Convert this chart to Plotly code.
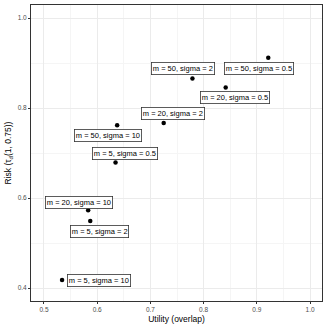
import plotly.graph_objects as go

# utility vs risk for each (m, sigma) setting
m_vals = [5, 20, 5, 5, 50, 20, 50, 20, 50]
sigma_vals = ["10", "10", "2", "0.5", "10", "2", "2", "0.5", "0.5"]
utility = [0.534, 0.583, 0.587, 0.6345, 0.6375, 0.725, 0.779, 0.8415, 0.9215]
risk = [0.418, 0.573, 0.549, 0.679, 0.762, 0.767, 0.866, 0.846, 0.912]

x_ticks = [0.5, 0.6, 0.7, 0.8, 0.9, 1.0]
y_ticks = [0.4, 0.6, 0.8, 1.0]

# label offsets in pixels (repel-style placement)
LABEL_OFFSETS = [(37, 0), (-9, -8), (9, 10), (9, -9), (-9, 10),
                 (9, -9), (-9, -10), (9, 10), (-9, 11)]

fig = go.Figure()
fig.add_trace(go.Scatter(
    x=utility, y=risk, mode="markers",
    marker=dict(color="black", size=4.5),
    showlegend=False, hoverinfo="skip",
))

for m, s, x, y, (dx, dy) in zip(m_vals, sigma_vals, utility, risk, LABEL_OFFSETS):
    fig.add_annotation(
        x=x, y=y, text=f"m = {m}, sigma = {s}",
        showarrow=True, arrowcolor="rgba(0,0,0,0)", ax=dx, ay=dy,
        font=dict(family="Liberation Sans, Arial", size=7.5, color="black"),
        bgcolor="white", bordercolor="#333333", borderwidth=0.8, borderpad=1,
    )

axis_common = dict(
    showgrid=True, gridcolor="#ebebeb", gridwidth=0.8,
    minor=dict(showgrid=True, gridcolor="#f5f5f5", gridwidth=0.5),
    zeroline=False, showline=True, linecolor="#333333", linewidth=1, mirror=True,
    ticks="outside", ticklen=2, tickcolor="#333333",
    tickfont=dict(family="Liberation Sans, Arial", size=6.5, color="#4d4d4d"),
    title_font=dict(family="Liberation Sans, Arial", size=8.5, color="black"),
)

fig.update_xaxes(range=[0.4756, 1.0225], tickvals=x_ticks,
                 ticktext=[f"{v:.1f}" for v in x_ticks],
                 minor_tickvals=[0.55, 0.65, 0.75, 0.85, 0.95],
                 title_text="Utility (overlap)", title_standoff=4, **axis_common)
fig.update_yaxes(range=[0.3715, 1.029], tickvals=y_ticks,
                 ticktext=[f"{v:.1f}" for v in y_ticks],
                 minor_tickvals=[0.5, 0.7, 0.9],
                 title_text="Risk (τ<sub>d</sub>(1, 0.75))", title_standoff=4, **axis_common)

fig.update_layout(
    width=327, height=327,
    margin=dict(l=31, r=4, t=4, b=25),
    plot_bgcolor="white", paper_bgcolor="white",
)

# drop the default page margin so the figure fills the window
fig.write_html("out.html", config={"displayModeBar": False},
               post_script="document.body.style.margin='0';")
